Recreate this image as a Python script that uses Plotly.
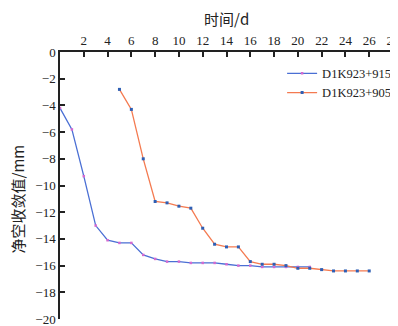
import plotly.graph_objects as go

days_a = list(range(0, 22))
vals_a = [-4.2, -5.8, -9.3, -13.0, -14.1, -14.3, -14.3, -15.2, -15.5, -15.7, -15.7,
          -15.8, -15.8, -15.8, -15.9, -16.0, -16.0, -16.1, -16.1, -16.1, -16.1, -16.1]
days_b = list(range(5, 27))
vals_b = [-2.8, -4.3, -8.0, -11.2, -11.3, -11.55, -11.7, -13.2, -14.4, -14.6, -14.6,
          -15.7, -15.9, -15.9, -16.0, -16.2, -16.2, -16.3, -16.4, -16.4, -16.4, -16.4]
x_ticks = list(range(2, 29, 2))
y_ticks = list(range(-20, 1, 2))

serif = "Liberation Serif, Times New Roman, serif"
cjk = "Noto Sans CJK SC"

fig = go.Figure()
fig.add_trace(go.Scatter(x=days_a, y=vals_a, mode="lines+markers", name="D1K923+915",
                         line=dict(color="#4a6fd4", width=1.3),
                         marker=dict(color="#d46ad0", size=2.5, symbol="square")))
fig.add_trace(go.Scatter(x=days_b, y=vals_b, mode="lines+markers", name="D1K923+905",
                         line=dict(color="#f47a50", width=1.3),
                         marker=dict(color="#2e5fb4", size=3, symbol="square")))

fig.update_layout(
    width=390, height=318,
    margin=dict(l=52, r=5, t=44, b=7, autoexpand=False),
    paper_bgcolor="white", plot_bgcolor="white",
    font=dict(family=serif, size=13, color="#222"),
    showlegend=True,
    legend=dict(x=0.667, y=0.975, xanchor="left", yanchor="top",
                bgcolor="rgba(0,0,0,0)", font=dict(size=12.5, family=serif),
                tracegroupgap=0, itemwidth=30),
    xaxis=dict(range=[0, 28], side="top", tickvals=x_ticks, automargin=False,
               ticks="inside", ticklen=5, tickcolor="#222", tickwidth=1.5,
               showline=True, linecolor="#222", linewidth=1.5, showgrid=False,
               zeroline=False, tickfont=dict(size=13, family=serif),
               ticklabeloverflow="allow"),
    yaxis=dict(range=[-20, 0], tickvals=y_ticks, automargin=False,
               ticks="inside", ticklen=5, tickcolor="#222", tickwidth=1.5,
               showline=True, linecolor="#222", linewidth=1.5, showgrid=False,
               zeroline=False, tickfont=dict(size=13, family=serif),
               ticklabeloverflow="allow"),
    annotations=[
        dict(text="时间/d", xref="paper", yref="paper", x=0.5, y=1.0, yshift=34,
             xanchor="center", yanchor="middle", showarrow=False,
             font=dict(size=15, family=cjk, color="#222")),
        dict(text="净空收敛值/mm", xref="paper", yref="paper", x=0.0, y=0.5,
             xshift=-43, yshift=-14,
             xanchor="center", yanchor="middle", showarrow=False, textangle=-90,
             font=dict(size=15, family=cjk, color="#222")),
    ],
)

fig.write_html("out.html")
